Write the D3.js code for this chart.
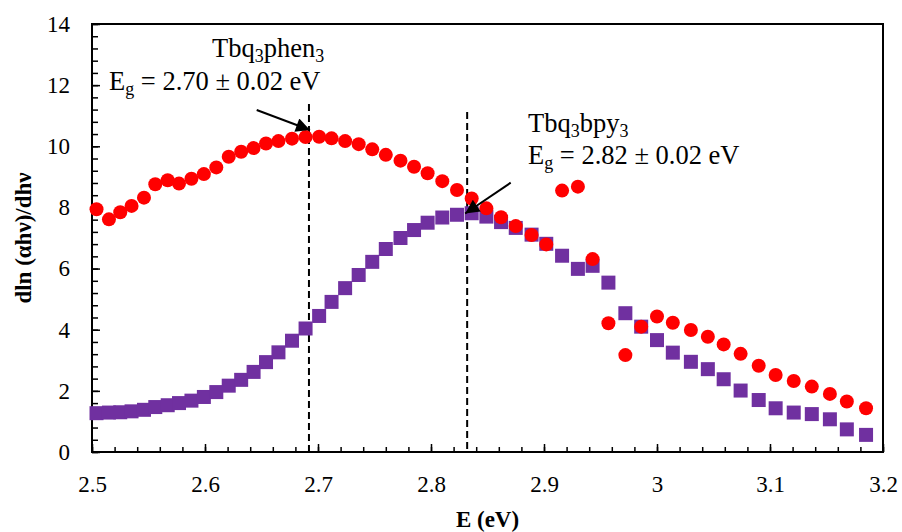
<!DOCTYPE html>
<html>
<head>
<meta charset="utf-8">
<script src="https://cdn.jsdelivr.net/npm/d3@7"></script>
<style>
  html, body { margin: 0; padding: 0; background: #fff; }
  svg { display: block; }
  svg text { font-family: "Liberation Serif", Tinos, "Times New Roman", "DejaVu Serif", serif !important; fill: #000; }
</style>
</head>
<body>
<svg id="chart" width="902" height="532"></svg>
<script>
// Photon energy (eV) shared by both spectra
const energy = [
  2.504, 2.515, 2.525, 2.535, 2.546, 2.556, 2.567, 2.577, 2.588, 2.599,
  2.610, 2.621, 2.632, 2.643, 2.654, 2.665, 2.677, 2.689, 2.701, 2.712,
  2.724, 2.736, 2.748, 2.760, 2.773, 2.785, 2.797, 2.810, 2.823, 2.836,
  2.849, 2.862, 2.875, 2.889, 2.902, 2.916, 2.930, 2.943, 2.957, 2.972,
  2.986, 3.000, 3.014, 3.030, 3.045, 3.059, 3.074, 3.090, 3.105, 3.121,
  3.137, 3.153, 3.168, 3.185
];

// d ln(αhν)/d(hν) for Tbq3phen3 (red circles)
const phen = [
  7.94, 7.61, 7.84, 8.05, 8.32, 8.76, 8.89, 8.78, 8.94, 9.09,
  9.31, 9.66, 9.82, 9.94, 10.09, 10.17, 10.25, 10.30, 10.31, 10.26,
  10.17, 10.07, 9.90, 9.72, 9.53, 9.33, 9.12, 8.86, 8.57, 8.29,
  7.97, 7.68, 7.39, 7.10, 6.79, 8.55, 8.68, 6.31, 4.21, 3.17,
  4.10, 4.43, 4.23, 3.99, 3.77, 3.52, 3.21, 2.82, 2.52, 2.32,
  2.14, 1.90, 1.65, 1.43
];

// d ln(αhν)/d(hν) for Tbq3bpy3 (purple squares)
const bpy = [
  1.27, 1.29, 1.30, 1.33, 1.38, 1.47, 1.53, 1.60, 1.68, 1.80,
  1.96, 2.17, 2.36, 2.62, 2.94, 3.26, 3.64, 4.04, 4.45, 4.91,
  5.36, 5.79, 6.22, 6.64, 7.00, 7.26, 7.50, 7.67, 7.76, 7.81,
  7.70, 7.52, 7.33, 7.11, 6.81, 6.42, 5.99, 6.09, 5.54, 4.54,
  4.10, 3.66, 3.25, 2.95, 2.71, 2.38, 2.01, 1.70, 1.43, 1.29,
  1.24, 1.07, 0.74, 0.56
];

// Axis ticks
const xMajor = [2.5, 2.6, 2.7, 2.8, 2.9, 3.0, 3.1, 3.2];
const xMinor = d3.range(0, 36).map(i => +(2.5 + i * 0.02).toFixed(2));
const yMajor = [0, 2, 4, 6, 8, 10, 12, 14];
const yMinor = d3.range(0, 36).map(i => +(i * 0.4).toFixed(1));

// Band-gap markers (dashed lines)
const gapLines = [2.692, 2.832];

const SERIF = "'Liberation Serif', Tinos, 'Times New Roman', 'DejaVu Serif', serif";
const svg = d3.select("#chart");
const m = { left: 92, right: 883, top: 24, bottom: 452 };

const x = d3.scaleLinear().domain([2.5, 3.2]).range([m.left, m.right]);
const y = d3.scaleLinear().domain([0, 14]).range([m.bottom, m.top]);

const styleTicks = g => {
  g.attr("font-family", SERIF);
  g.select(".domain").remove();
  g.selectAll("line").attr("stroke", "#000").attr("stroke-width", 1.5);
  g.selectAll("text").attr("font-size", 23).attr("font-family", SERIF).attr("fill", "#000");
};

// Minor ticks (inside)
svg.append("g")
  .attr("transform", `translate(0,${m.bottom})`)
  .call(d3.axisBottom(x).tickValues(xMinor).tickSize(-5).tickFormat(""))
  .call(styleTicks);
svg.append("g")
  .attr("transform", `translate(${m.left},0)`)
  .call(d3.axisLeft(y).tickValues(yMinor).tickSize(-6).tickFormat(""))
  .call(styleTicks);

// Major ticks with labels
svg.append("g")
  .attr("transform", `translate(0,${m.bottom})`)
  .call(d3.axisBottom(x).tickValues(xMajor).tickSize(-8).tickPadding(24)
    .tickFormat(d => String(d)))
  .call(styleTicks);
svg.append("g")
  .attr("transform", `translate(${m.left},0)`)
  .call(d3.axisLeft(y).tickValues(yMajor).tickSize(-8).tickPadding(22))
  .call(styleTicks);

// Plot frame
svg.append("rect")
  .attr("x", m.left).attr("y", m.top)
  .attr("width", m.right - m.left).attr("height", m.bottom - m.top)
  .attr("fill", "none").attr("stroke", "#000").attr("stroke-width", 2);

// Dashed band-gap lines
const gapTop = [104, 112];
svg.selectAll(".gap").data(gapLines).join("line")
  .attr("class", "gap")
  .attr("x1", d => x(d)).attr("x2", d => x(d))
  .attr("y1", (d, i) => gapTop[i]).attr("y2", m.bottom)
  .attr("stroke", "#000").attr("stroke-width", 2)
  .attr("stroke-dasharray", "7,4");

// Data markers: squares first, circles on top
const bpyData = energy.map((e, i) => [e, bpy[i]]);
const phenData = energy.map((e, i) => [e, phen[i]]);
const sq = 14;
svg.append("g").selectAll("rect").data(bpyData).join("rect")
  .attr("x", d => x(d[0]) - sq / 2).attr("y", d => y(d[1]) - sq / 2)
  .attr("width", sq).attr("height", sq)
  .attr("fill", "#7030A0");
svg.append("g").selectAll("circle").data(phenData).join("circle")
  .attr("cx", d => x(d[0])).attr("cy", d => y(d[1])).attr("r", 7)
  .attr("fill", "#FF0000");

// Arrows
svg.append("defs").append("marker")
  .attr("id", "head").attr("viewBox", "0 0 10 10")
  .attr("refX", 10).attr("refY", 5)
  .attr("markerWidth", 8).attr("markerHeight", 7)
  .attr("markerUnits", "strokeWidth")
  .attr("orient", "auto")
  .append("path").attr("d", "M0,0 L10,5 L0,10 Z").attr("fill", "#000");
const arrows = [
  { from: [256.7, 110], to: [x(2.692) + 1, 130] },
  { from: [510.7, 182.7], to: [x(2.832) - 2, 213.5] }
];
svg.selectAll(".arrow").data(arrows).join("line")
  .attr("class", "arrow")
  .attr("x1", d => d.from[0]).attr("y1", d => d.from[1])
  .attr("x2", d => d.to[0]).attr("y2", d => d.to[1])
  .attr("stroke", "#000").attr("stroke-width", 2)
  .attr("marker-end", "url(#head)");

// Annotation text with subscripts
function label(xp, yp, parts) {
  const t = svg.append("text").attr("x", xp).attr("y", yp)
    .attr("font-size", 26.5).attr("font-family", SERIF);
  parts.forEach(p => {
    const s = t.append("tspan").text(p[0]);
    if (p[1]) s.attr("font-size", 18).attr("dy", 5);
    else if (p[2]) s.attr("dy", -5);
  });
  return t;
}
label(212, 57, [["Tbq"], ["3", true], ["phen", false, true], ["3", true]]);
label(109, 90, [["E"], ["g", true], [" = 2.70 ± 0.02 eV", false, true]]);
label(528, 132, [["Tbq"], ["3", true], ["bpy", false, true], ["3", true]]);
label(528, 164, [["E"], ["g", true], [" = 2.82 ± 0.02 eV", false, true]]);

// Axis titles
svg.append("text")
  .attr("x", (m.left + m.right) / 2).attr("y", 527)
  .attr("text-anchor", "middle").attr("font-size", 23).attr("font-weight", "bold")
  .attr("font-family", SERIF)
  .text("E (eV)");
svg.append("text")
  .attr("transform", `translate(31,${(m.top + m.bottom) / 2}) rotate(-90)`)
  .attr("text-anchor", "middle").attr("font-size", 23).attr("font-weight", "bold")
  .attr("font-family", SERIF)
  .text("dln (αhν)/dhν");
</script>
</body>
</html>
